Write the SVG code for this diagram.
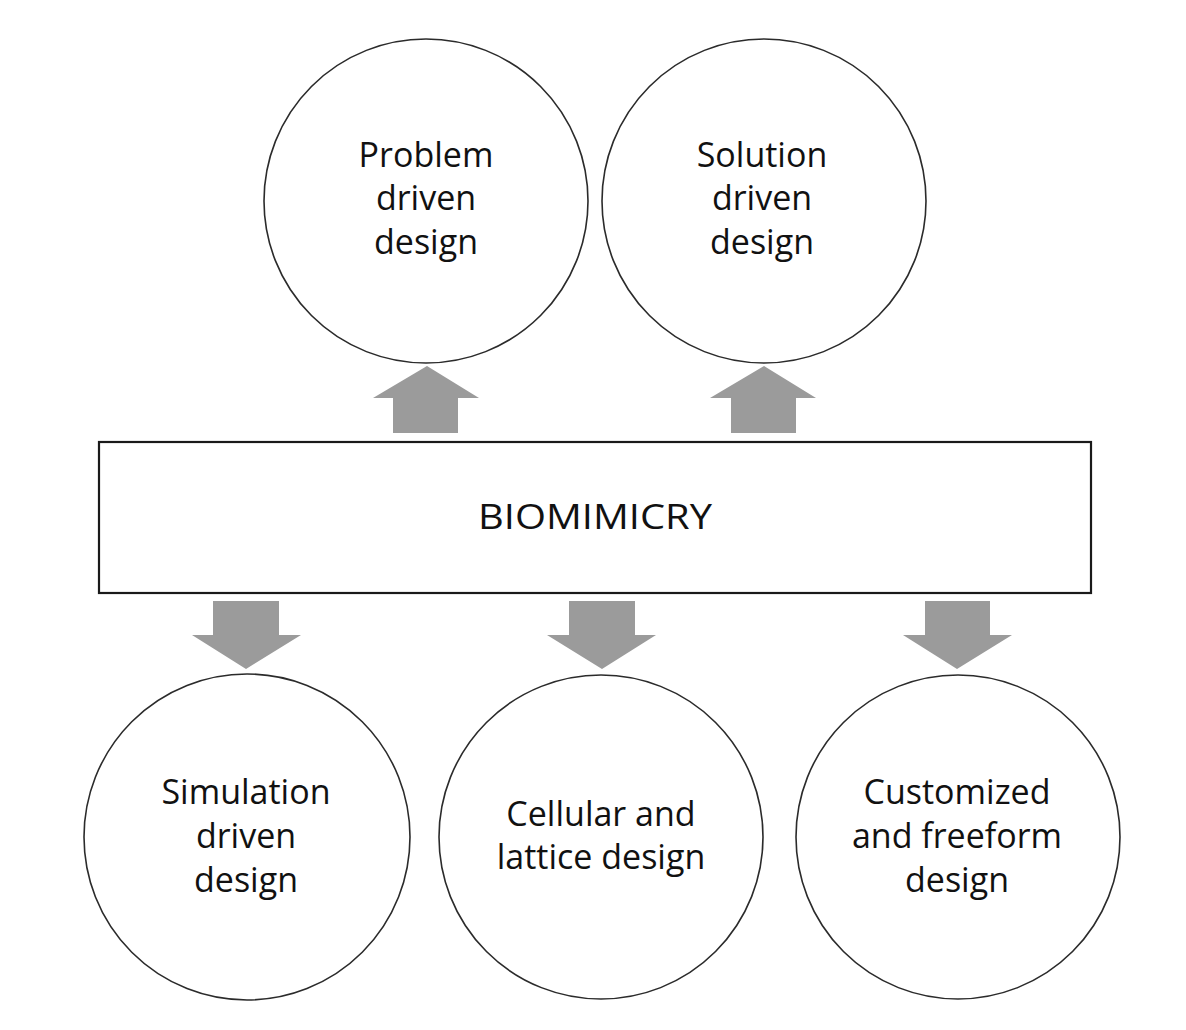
<svg xmlns="http://www.w3.org/2000/svg" width="1186" height="1030" viewBox="0 0 1186 1030">
  <style>
    .node { fill: #ffffff; stroke: #2b2b2b; stroke-width: 1.6; }
    .box { fill: #ffffff; stroke: #1a1a1a; stroke-width: 2.2; }
    .lbl { font-family: "Open Sans", "Noto Sans", "Liberation Sans", sans-serif; font-size: 34px; fill: #111111; text-anchor: middle; font-variant-ligatures: none; }
    .title { font-size: 35px; }
    .arrow { fill: #9b9b9b; }
  </style>
  <rect width="1186" height="1030" fill="#ffffff"/>

  <g id="connectors">
    <!-- upward block arrows -->
    <polygon class="arrow" points="393,433 458,433 458,398 479,398 427,366 373,398 393,398"/>
    <polygon class="arrow" points="731,433 796,433 796,398 816,398 764,366 710,398 731,398"/>
    <!-- downward block arrows -->
    <polygon class="arrow" points="213,601 279,601 279,635 301,635 246,669 192,635 213,635"/>
    <polygon class="arrow" points="569,601 635,601 635,635 656,635 602,669 547,635 569,635"/>
    <polygon class="arrow" points="925,601 990,601 990,635 1012,635 957,669 903,635 925,635"/>
  </g>

  <g id="problem-driven">
    <circle class="node" cx="426" cy="201" r="162"/>
    <text class="lbl" x="426" y="167">Problem</text>
    <text class="lbl" x="426" y="210">driven</text>
    <text class="lbl" x="426" y="254">design</text>
  </g>

  <g id="solution-driven">
    <circle class="node" cx="764" cy="201" r="162"/>
    <text class="lbl" x="762" y="167">Solution</text>
    <text class="lbl" x="762" y="210">driven</text>
    <text class="lbl" x="762" y="254">design</text>
  </g>

  <g id="biomimicry">
    <rect class="box" x="99" y="442" width="992" height="151"/>
    <text class="lbl title" x="595" y="529" textLength="234" lengthAdjust="spacingAndGlyphs">BIOMIMICRY</text>
  </g>

  <g id="simulation-driven">
    <circle class="node" cx="247" cy="837" r="163"/>
    <text class="lbl" x="246" y="804">Simulation</text>
    <text class="lbl" x="246" y="848">driven</text>
    <text class="lbl" x="246" y="892">design</text>
  </g>

  <g id="cellular-lattice">
    <circle class="node" cx="601" cy="837" r="162"/>
    <text class="lbl" x="601" y="826">Cellular and</text>
    <text class="lbl" x="601" y="869">lattice design</text>
  </g>

  <g id="customized-freeform">
    <circle class="node" cx="958" cy="837" r="162"/>
    <text class="lbl" x="957" y="804">Customized</text>
    <text class="lbl" x="957" y="848">and freeform</text>
    <text class="lbl" x="957" y="892">design</text>
  </g>
</svg>
